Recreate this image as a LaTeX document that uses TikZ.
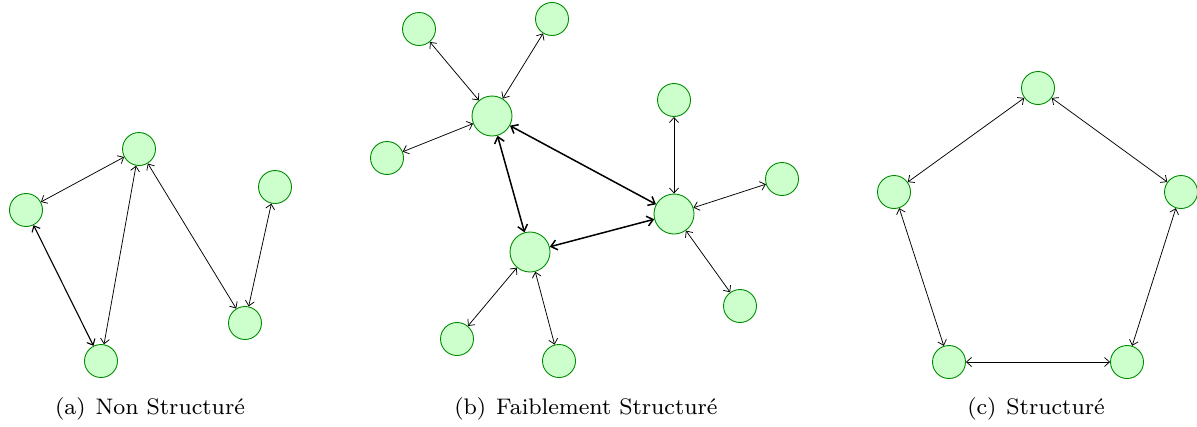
\documentclass[tikz,border=0pt]{standalone}
\usepackage{fontspec}
\newfontfamily\capfont[Extension=.otf]{lmroman8-regular}
\usetikzlibrary{arrows.meta}
\begin{document}
\begin{tikzpicture}[x=1pt,y=-1pt,
  leaf/.style={circle,draw=green!55!black,fill=green!20,line width=0.9pt,minimum size=33pt,inner sep=0pt},
  hub/.style={circle,draw=green!55!black,fill=green!20,line width=0.9pt,minimum size=40pt,inner sep=0pt},
  link/.style={{Straight Barb[length=5pt,width=9pt]}-{Straight Barb[length=5pt,width=9pt]},line width=0.75pt},
  strong/.style={{Straight Barb[length=6pt,width=10pt]}-{Straight Barb[length=6pt,width=10pt]},line width=1.5pt},
  caption/.style={font=\capfont\fontsize{22.5}{27}\selectfont,inner sep=0pt,anchor=base}]
\useasboundingbox (0,0) rectangle (1197,426);
% panel a
\node[leaf] (a1) at (26,210) {};
\node[leaf] (a2) at (139,149) {};
\node[leaf] (a3) at (275,187) {};
\node[leaf] (a4) at (101,361) {};
\node[leaf] (a5) at (245,323) {};
\draw[link] (a1) -- (a2);
\draw[link,line width=1.1pt] (a1) -- (a4);
\draw[link] (a2) -- (a4);
\draw[link] (a2) -- (a5);
\draw[link] (a3) -- (a5);
% panel b
\node[hub] (h1) at (492,116) {};
\node[hub] (h2) at (530,252) {};
\node[hub] (h3) at (674,214) {};
\node[leaf] (b1) at (419,29) {};
\node[leaf] (b2) at (552,19) {};
\node[leaf] (b3) at (387,158) {};
\node[leaf] (b4) at (674,100) {};
\node[leaf] (b5) at (782,179) {};
\node[leaf] (b6) at (740,306) {};
\node[leaf] (b7) at (457,339) {};
\node[leaf] (b8) at (559,361) {};
\draw[strong] (h1) -- (h2);
\draw[strong] (h1) -- (h3);
\draw[strong] (h2) -- (h3);
\draw[link] (h1) -- (b1);
\draw[link] (h1) -- (b2);
\draw[link] (h1) -- (b3);
\draw[link] (h3) -- (b4);
\draw[link] (h3) -- (b5);
\draw[link] (h3) -- (b6);
\draw[link] (h2) -- (b7);
\draw[link] (h2) -- (b8);
% panel c
\node[leaf] (c1) at (1038,88) {};
\node[leaf] (c2) at (894,192) {};
\node[leaf] (c3) at (1181,192) {};
\node[leaf] (c4) at (949,362) {};
\node[leaf] (c5) at (1127,362) {};
\draw[link] (c1) -- (c2);
\draw[link] (c1) -- (c3);
\draw[link] (c2) -- (c4);
\draw[link] (c3) -- (c5);
\draw[link] (c4) -- (c5);
% captions
\node[caption] (la) at (150,414) {(a)\hspace{10pt}Non Structuré};
\node[caption] (lb) at (586,414) {(b)\hspace{10pt}Faiblement Structuré};
\node[caption] (lc) at (1036,414) {(c)\hspace{10pt}Structuré};
\end{tikzpicture}
\end{document}
